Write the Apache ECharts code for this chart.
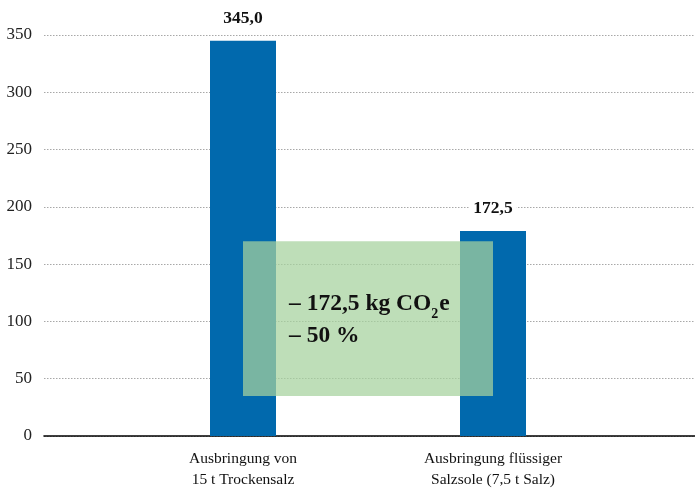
<!DOCTYPE html>
<html>
<head>
<meta charset="utf-8">
<script src="https://cdn.jsdelivr.net/npm/echarts@6/dist/echarts.min.js"></script>
<style>
html,body{margin:0;padding:0;background:#fff;}
#c{width:695px;height:491px;}
</style>
</head>
<body>
<div id="c"></div>
<script>
const categories = ['Ausbringung von\n15 t Trockensalz', 'Ausbringung flüssiger\nSalzsole (7,5 t Salz)'];
const barValues = [345, 179];
const barLabels = ['345,0', '172,5'];
const yMin = 0, yMax = 350, yStep = 50;
const reductionRange = [35, 170];
const reductionLine1 = ['– 172,5 kg CO', '2', 'e'];
const reductionLine2 = '– 50 %';

const SERIF = '"Liberation Serif", "DejaVu Serif", serif';
const chart = echarts.init(document.getElementById('c'), null, {renderer: 'canvas'});
chart.setOption({
  backgroundColor: '#ffffff',
  animation: false,
  grid: [
    {left: 44, right: 0, top: 35, bottom: 55},
    {left: 243, width: 250, top: 35, bottom: 55}
  ],
  xAxis: [
    {gridIndex: 0, type: 'value', min: 0, max: 1,
     axisLine: {show: true, onZero: false, lineStyle: {color: '#000', width: 1.6}},
     axisTick: {show: false}, axisLabel: {show: false}, splitLine: {show: false}},
    {gridIndex: 1, type: 'category', data: categories, boundaryGap: false,
     axisLine: {show: false}, axisTick: {show: false}, splitLine: {show: false},
     axisLabel: {color: '#111', fontFamily: SERIF, fontSize: 15.5, lineHeight: 21, margin: 12}}
  ],
  yAxis: [
    {gridIndex: 0, type: 'value', min: yMin, max: yMax, interval: yStep,
     axisLine: {show: false}, axisTick: {show: false},
     axisLabel: {color: '#222', fontFamily: SERIF, fontSize: 17, margin: 12},
     splitLine: {show: true, lineStyle: {color: '#a8a8a8', type: [1.5, 1.5], width: 1}}},
    {gridIndex: 1, type: 'value', min: yMin, max: yMax, interval: yStep, show: false,
     splitLine: {show: false}}
  ],
  series: [
    {
      type: 'bar', xAxisIndex: 1, yAxisIndex: 1,
      data: barValues, barWidth: 66, clip: false,
      itemStyle: {color: '#0169AD'},
      label: {
        show: true, position: 'top', distance: 13,
        formatter: p => barLabels[p.dataIndex],
        fontFamily: SERIF, fontSize: 17.5, fontWeight: 'bold', color: '#111',
        backgroundColor: '#fff', padding: [0, 4]
      },
      markArea: {
        z: 5, silent: true,
        itemStyle: {color: 'rgba(166,210,158,0.73)'},
        label: {
          show: true, position: 'insideLeft', distance: 46, offset: [0, 5],
          formatter: '{a|' + reductionLine1[0] + '}{s|' + reductionLine1[1] + '}{a|' + reductionLine1[2] + '}\n{a|' + reductionLine2 + '}',
          rich: {
            a: {fontFamily: SERIF, fontSize: 23.5, fontWeight: 'bold', color: '#111', lineHeight: 32, verticalAlign: 'top'},
            s: {fontFamily: SERIF, fontSize: 14, fontWeight: 'bold', color: '#111', lineHeight: 32, verticalAlign: 'bottom', padding: [0, 1, 2, 0]}
          }
        },
        data: [[{xAxis: categories[0], yAxis: reductionRange[0]}, {xAxis: categories[1], yAxis: reductionRange[1]}]]
      }
    }
  ]
});
</script>
</body>
</html>
